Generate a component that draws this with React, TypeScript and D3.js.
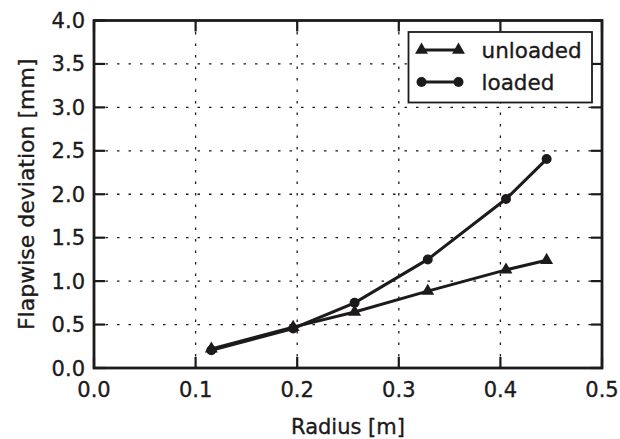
import React from "react";
import * as d3 from "d3";

const radius = [0.1155, 0.196, 0.2565, 0.3285, 0.4055, 0.4455];
const unloaded = [0.22, 0.47, 0.645, 0.885, 1.13, 1.24];
const loaded = [0.205, 0.455, 0.75, 1.25, 1.945, 2.405];
const xTicks = [0, 0.1, 0.2, 0.3, 0.4, 0.5];
const yTicks = [0, 0.5, 1, 1.5, 2, 2.5, 3, 3.5, 4];
const seriesNames = ["unloaded", "loaded"];

const W = 620, H = 439;
const L = 94, R = 602, T = 20.5, B = 368;
const INK = "#1c1a1a";
const FONT = "'DejaVu Sans', sans-serif";

export default function App() {
  const x = d3.scaleLinear().domain([0, 0.5]).range([L, R]);
  const y = d3.scaleLinear().domain([0, 4]).range([B, T]);
  const line = d3.line<[number, number]>().x(d => x(d[0])).y(d => y(d[1]));
  const uPts: [number, number][] = radius.map((r, i) => [r, unloaded[i]]);
  const lPts: [number, number][] = radius.map((r, i) => [r, loaded[i]]);
  const tri = d3.symbol().type(d3.symbolTriangle).size(72)();
  const circ = d3.symbol().type(d3.symbolCircle).size(78)();
  const tick = 11;
  const textStroke = { stroke: INK, strokeWidth: 0.35 };

  return (
    <svg width={W} height={H} style={{ position: "absolute", left: 0, top: 0, background: "#fff" }}>
      <rect x={0} y={0} width={W} height={H} fill="#fff" />
      {/* grid */}
      <g stroke={INK} strokeWidth={1.3} strokeDasharray="2.5,9">
        {xTicks.slice(1, -1).map(t => (
          <line key={"gx" + t} x1={x(t)} x2={x(t)} y1={B} y2={T} />
        ))}
        {yTicks.slice(1, -1).map(t => (
          <line key={"gy" + t} x1={L} x2={R} y1={y(t)} y2={y(t)} />
        ))}
      </g>
      {/* ticks */}
      <g stroke={INK} strokeWidth={2.2}>
        {xTicks.map(t => (
          <g key={"tx" + t}>
            <line x1={x(t)} x2={x(t)} y1={B} y2={B - tick} />
            <line x1={x(t)} x2={x(t)} y1={T} y2={T + tick} />
          </g>
        ))}
        {yTicks.map(t => (
          <g key={"ty" + t}>
            <line x1={L} x2={L + tick} y1={y(t)} y2={y(t)} />
            <line x1={R} x2={R - tick} y1={y(t)} y2={y(t)} />
          </g>
        ))}
      </g>
      {/* data */}
      <path d={line(uPts) || ""} fill="none" stroke={INK} strokeWidth={3} />
      <path d={line(lPts) || ""} fill="none" stroke={INK} strokeWidth={3} />
      {uPts.map((p, i) => (
        <path key={"u" + i} d={tri || ""} transform={`translate(${x(p[0])},${y(p[1])})`} fill={INK} />
      ))}
      {lPts.map((p, i) => (
        <path key={"l" + i} d={circ || ""} transform={`translate(${x(p[0])},${y(p[1])})`} fill={INK} />
      ))}
      {/* frame */}
      <rect x={L} y={T} width={R - L} height={B - T} fill="none" stroke={INK} strokeWidth={2.8} />
      {/* tick labels */}
      <g fill={INK} fontFamily={FONT} fontSize={21} {...textStroke}>
        {xTicks.map(t => (
          <text key={"lx" + t} x={x(t)} y={397} textAnchor="middle">{d3.format(".1f")(t)}</text>
        ))}
        {yTicks.map(t => (
          <text key={"ly" + t} x={85} y={y(t)} dy="0.36em" textAnchor="end">{d3.format(".1f")(t)}</text>
        ))}
      </g>
      {/* axis labels */}
      <text x={(L + R) / 2} y={434} textAnchor="middle" fontFamily={FONT} fontSize={21} fill={INK} {...textStroke}>Radius [m]</text>
      <text transform={`translate(34,${(T + B) / 2}) rotate(-90)`} textAnchor="middle" fontFamily={FONT} fontSize={22} fill={INK} {...textStroke}>Flapwise deviation [mm]</text>
      {/* legend */}
      <rect x={408.5} y={32} width={183.5} height={70.5} fill="#fff" stroke={INK} strokeWidth={1.8} />
      {seriesNames.map((name, i) => {
        const cy = i === 0 ? 50 : 82;
        return (
          <g key={name}>
            <line x1={421.5} x2={458.5} y1={cy} y2={cy} stroke={INK} strokeWidth={3} />
            {[421.5, 458.5].map(cx => (
              <path key={cx} d={(i === 0 ? tri : circ) || ""} transform={`translate(${cx},${cy})`} fill={INK} />
            ))}
            <text x={481.5} y={cy} dy="0.36em" fontFamily={FONT} fontSize={21.5} fill={INK} {...textStroke}>{name}</text>
          </g>
        );
      })}
    </svg>
  );
}
